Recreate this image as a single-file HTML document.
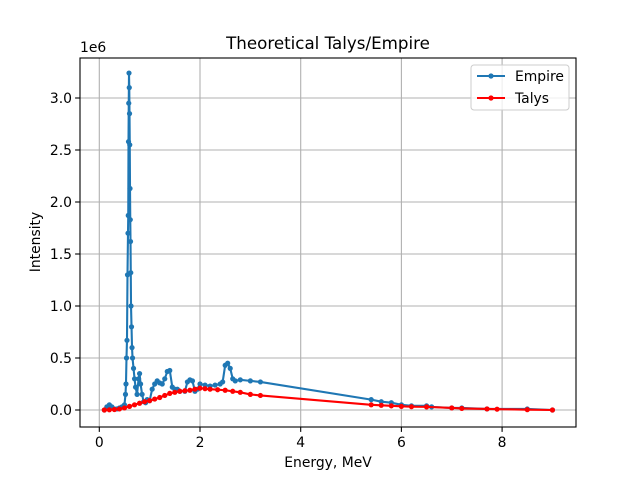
<!DOCTYPE html>
<html><head><meta charset="utf-8"><style>
body{margin:0;background:#fff;font-family:"Liberation Sans","DejaVu Sans",sans-serif}
svg text{font-family:"DejaVu Sans","Liberation Sans",sans-serif}
</style></head><body>
<svg id="c" width="640" height="480"></svg>
<script>
const empE=[0.1,0.15,0.2,0.25,0.3,0.35,0.4,0.45,0.5,0.52,0.53,0.54,0.55,0.56,0.57,0.575,0.58,0.585,0.59,0.595,0.6,0.605,0.61,0.615,0.62,0.625,0.63,0.64,0.65,0.66,0.68,0.7,0.72,0.75,0.78,0.8,0.82,0.85,0.88,0.92,0.95,1.0,1.05,1.1,1.15,1.2,1.25,1.3,1.35,1.4,1.45,1.5,1.55,1.6,1.7,1.75,1.8,1.85,1.9,1.95,2.0,2.1,2.2,2.3,2.4,2.45,2.5,2.55,2.6,2.65,2.7,2.8,3.0,3.2,5.4,5.6,5.8,6.0,6.2,6.5,6.6,7.0,7.2,7.7,8.5,9.0];
const empI=[0.0,0.03,0.05,0.03,0.01,0.01,0.02,0.03,0.05,0.15,0.25,0.5,0.67,1.3,1.7,1.87,2.58,2.95,3.24,3.1,2.85,2.55,2.13,1.83,1.62,1.32,1.0,0.8,0.6,0.5,0.4,0.3,0.22,0.15,0.3,0.35,0.25,0.15,0.08,0.07,0.1,0.09,0.2,0.25,0.28,0.26,0.25,0.3,0.37,0.38,0.22,0.2,0.2,0.18,0.18,0.27,0.29,0.28,0.18,0.2,0.25,0.24,0.23,0.24,0.25,0.27,0.43,0.45,0.40,0.3,0.28,0.29,0.28,0.27,0.1,0.08,0.07,0.05,0.04,0.04,0.03,0.02,0.02,0.01,0.01,0.0];
const talE=[0.1,0.2,0.3,0.4,0.5,0.6,0.7,0.8,0.9,1.0,1.1,1.2,1.3,1.4,1.5,1.6,1.7,1.8,1.9,2.0,2.1,2.2,2.35,2.5,2.65,2.8,3.0,3.2,5.4,5.6,5.8,6.0,6.2,6.5,7.0,7.2,7.7,7.9,8.5,9.0];
const talI=[0.0,0.002,0.005,0.01,0.02,0.035,0.05,0.065,0.08,0.09,0.105,0.12,0.14,0.16,0.17,0.18,0.185,0.19,0.2,0.21,0.205,0.2,0.195,0.19,0.18,0.17,0.15,0.14,0.05,0.045,0.04,0.035,0.032,0.03,0.02,0.015,0.01,0.008,0.003,0.0];
const xTicks=[0,2,4,6,8];
const yTicks=[0,0.5,1.0,1.5,2.0,2.5,3.0];
const L=80,R=576,T=58,B=427;
const xs=v=>99.3+v*50.35, ys=v=>410-v*104;
const svg=document.getElementById('c');const NS='http://www.w3.org/2000/svg';
function mk(t,a,p){const e=document.createElementNS(NS,t);for(const k in a)e.setAttribute(k,a[k]);(p||svg).appendChild(e);return e;}
xTicks.forEach(v=>{const g=mk('line',{x1:xs(v),x2:xs(v),y1:T,y2:B,stroke:'#b0b0b0','stroke-width':1.1});

mk('line',{x1:xs(v),x2:xs(v),y1:B,y2:B+4.9,stroke:'#000','stroke-width':1.1});
const t=mk('text',{x:xs(v),y:B+20,'text-anchor':'middle','font-size':13.9});t.textContent=v;
});
yTicks.forEach(v=>{const g=mk('line',{x1:L,x2:R,y1:ys(v),y2:ys(v),stroke:'#b0b0b0','stroke-width':1.1});

mk('line',{x1:L-4.9,x2:L,y1:ys(v),y2:ys(v),stroke:'#000','stroke-width':1.1});
const t=mk('text',{x:L-8,y:ys(v)+5,'text-anchor':'end','font-size':13.9});t.textContent=v.toFixed(1);
});
function series(X,Y,col,name){const g=mk('g',{});
mk('polyline',{points:X.map((x,i)=>xs(x)+','+ys(Y[i])).join(' '),fill:'none',stroke:col,'stroke-width':2.1},g);
X.forEach((x,i)=>{const c=mk('circle',{cx:xs(x),cy:ys(Y[i]),r:2.6,fill:col},g);});}
series(empE,empI,'#1f77b4','empire-series');
series(talE,talI,'#ff0000','talys-series');
const f=mk('rect',{x:L,y:T,width:R-L,height:B-T,fill:'none',stroke:'#000','stroke-width':1.1});

let t=mk('text',{x:328,y:49,'text-anchor':'middle','font-size':16.7});t.textContent='Theoretical Talys/Empire';
t=mk('text',{x:328,y:467,'text-anchor':'middle','font-size':13.9});t.textContent='Energy, MeV';
t=mk('text',{x:40,y:242,'text-anchor':'middle','font-size':13.9,transform:'rotate(-90 40 242)'});t.textContent='Intensity';
t=mk('text',{x:80,y:52,'font-size':13.9});t.textContent='1e6';
const lg=mk('g',{});
mk('rect',{x:471,y:65,width:98,height:45,rx:3,fill:'#fff','fill-opacity':0.8,stroke:'#ccc'},lg);
[['Empire','#1f77b4',76],['Talys','#ff0000',98]].forEach(([n,c,y])=>{
mk('line',{x1:477,x2:505,y1:y,y2:y,stroke:c,'stroke-width':2.1},lg);mk('circle',{cx:491,cy:y,r:2.6,fill:c},lg);
const tt=mk('text',{x:515,y:y+5,'font-size':13.9},lg);tt.textContent=n;});
</script></body></html>
